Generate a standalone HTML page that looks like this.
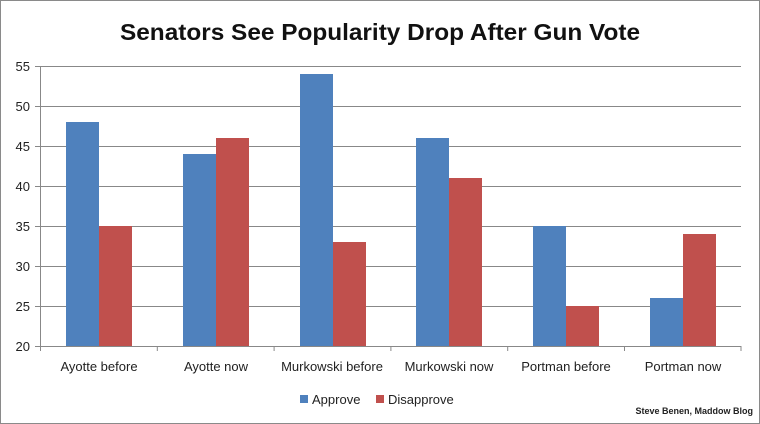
<!DOCTYPE html>
<html><head><meta charset="utf-8"><style>
body{margin:0;background:#fff}
svg{display:block;font-family:"Liberation Sans","DejaVu Sans",sans-serif}
</style></head><body>
<svg width="760" height="424" viewBox="0 0 760 424" xmlns="http://www.w3.org/2000/svg">
<rect x="0.5" y="0.5" width="759" height="423" fill="#fff" stroke="#8a8a8a"/>
<text x="380" y="40" text-anchor="middle" font-size="23" font-weight="bold" fill="#111" textLength="520" lengthAdjust="spacingAndGlyphs">Senators See Popularity Drop After Gun Vote</text>
<g stroke="#888" stroke-width="1">
<line x1="35" y1="66.5" x2="741" y2="66.5"/>
<line x1="35" y1="106.5" x2="741" y2="106.5"/>
<line x1="35" y1="146.5" x2="741" y2="146.5"/>
<line x1="35" y1="186.5" x2="741" y2="186.5"/>
<line x1="35" y1="226.5" x2="741" y2="226.5"/>
<line x1="35" y1="266.5" x2="741" y2="266.5"/>
<line x1="35" y1="306.5" x2="741" y2="306.5"/>
<line x1="35" y1="346.5" x2="741" y2="346.5"/>
<line x1="40.5" y1="66" x2="40.5" y2="346"/>
<line x1="157.3" y1="346" x2="157.3" y2="351"/>
<line x1="274.1" y1="346" x2="274.1" y2="351"/>
<line x1="390.9" y1="346" x2="390.9" y2="351"/>
<line x1="507.7" y1="346" x2="507.7" y2="351"/>
<line x1="624.5" y1="346" x2="624.5" y2="351"/>
<line x1="741" y1="346" x2="741" y2="351"/>
<line x1="40.5" y1="346" x2="40.5" y2="351"/>
</g>
<g font-size="13" fill="#222" text-anchor="end">
<text x="30" y="71">55</text><text x="30" y="111">50</text><text x="30" y="151">45</text>
<text x="30" y="191">40</text><text x="30" y="231">35</text><text x="30" y="271">30</text>
<text x="30" y="311">25</text><text x="30" y="351">20</text>
</g>
<g fill="#4f81bd">
<rect x="66" y="122" width="33" height="224"/>
<rect x="183" y="154" width="33" height="192"/>
<rect x="300" y="74" width="33" height="272"/>
<rect x="416" y="138" width="33" height="208"/>
<rect x="533" y="226" width="33" height="120"/>
<rect x="650" y="298" width="33" height="48"/>
</g>
<g fill="#c0504d">
<rect x="99" y="226" width="33" height="120"/>
<rect x="216" y="138" width="33" height="208"/>
<rect x="333" y="242" width="33" height="104"/>
<rect x="449" y="178" width="33" height="168"/>
<rect x="566" y="306" width="33" height="40"/>
<rect x="683" y="234" width="33" height="112"/>
</g>
<g font-size="13" fill="#222" text-anchor="middle">
<text x="99" y="371">Ayotte before</text>
<text x="216" y="371">Ayotte now</text>
<text x="332" y="371">Murkowski before</text>
<text x="449" y="371">Murkowski now</text>
<text x="566" y="371">Portman before</text>
<text x="683" y="371">Portman now</text>
</g>
<rect x="300" y="395" width="8" height="8" fill="#4f81bd"/>
<text x="312" y="404" font-size="13" fill="#222">Approve</text>
<rect x="376" y="395" width="8" height="8" fill="#c0504d"/>
<text x="388" y="404" font-size="13" fill="#222">Disapprove</text>
<text x="753" y="414" text-anchor="end" font-size="9" font-weight="bold" fill="#222">Steve Benen, Maddow Blog</text>
</svg>
</body></html>
